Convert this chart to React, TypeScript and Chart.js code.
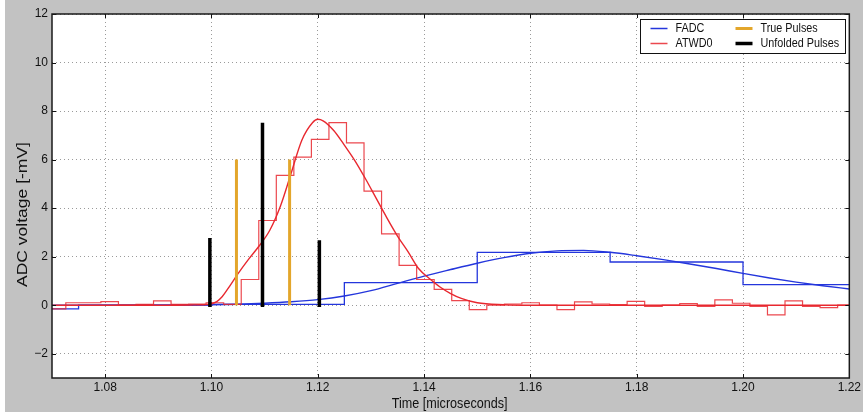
import React, { useEffect, useRef } from 'react';
import { Chart, registerables } from 'chart.js';

Chart.register(...registerables);

// ---------- axes ----------
const X_MIN = 1.07;
const X_MAX = 1.22;
const Y_MIN = -3;
const Y_MAX = 12;
const X_TICKS = [1.08, 1.1, 1.12, 1.14, 1.16, 1.18, 1.2, 1.22];
const Y_TICKS = [-2, 0, 2, 4, 6, 8, 10, 12];
const X_TITLE = 'Time [microseconds]';
const Y_TITLE = 'ADC voltage [-mV]';

// ---------- FADC (25 ns bins) ----------
const FADC_BIN_STARTS = [1.05, 1.075, 1.1, 1.125, 1.15, 1.175, 1.2];
const FADC_BIN_END = 1.225;
const FADC_VALUES = [-0.15, 0.0, 0.03, 0.93, 2.18, 1.78, 0.85];

const FADC_FIT_TIMES = [1.07, 1.095, 1.1, 1.105, 1.11, 1.115, 1.12, 1.125, 1.13, 1.135, 1.14, 1.145, 1.15, 1.155, 1.16, 1.165, 1.17, 1.175, 1.18, 1.185, 1.19, 1.195, 1.2, 1.205, 1.21, 1.215, 1.22];
const FADC_FIT_VALUES = [0, 0.01, 0.02, 0.04, 0.08, 0.14, 0.23, 0.38, 0.6, 0.9, 1.2, 1.47, 1.73, 1.96, 2.14, 2.24, 2.26, 2.18, 2.04, 1.88, 1.7, 1.51, 1.31, 1.12, 0.95, 0.8, 0.67];

// ---------- ATWD0 (3.3 ns bins) ----------
const ATWD_BIN_STARTS = [1.0693, 1.0726, 1.0759, 1.0792, 1.0825, 1.0858, 1.0891, 1.0924, 1.0957, 1.099, 1.1023, 1.1056, 1.1089, 1.1122, 1.1155, 1.1188, 1.1221, 1.1254, 1.1287, 1.132, 1.1353, 1.1386, 1.1419, 1.1452, 1.1485, 1.1518, 1.1551, 1.1584, 1.1617, 1.165, 1.1683, 1.1716, 1.1749, 1.1782, 1.1815, 1.1848, 1.1881, 1.1914, 1.1947, 1.198, 1.2013, 1.2046, 1.2079, 1.2112, 1.2145, 1.2178];
const ATWD_BIN_END = 1.2211;
const ATWD_VALUES = [-0.15, 0.1, 0.1, 0.15, 0.0, 0.03, 0.18, 0.03, 0.05, 0.1, 0.03, 1.06, 3.49, 5.35, 6.1, 6.83, 7.52, 6.69, 4.7, 2.94, 1.64, 1.06, 0.65, 0.19, -0.18, 0.0, 0.05, 0.1, 0.0, -0.18, 0.14, 0.05, 0.02, 0.16, -0.05, 0.0, 0.07, -0.05, 0.22, 0.08, -0.05, -0.4, 0.18, -0.05, -0.1, 0.0];

const ATWD_FIT_TIMES = [1.07, 1.09, 1.096, 1.099, 1.1, 1.101, 1.102, 1.103, 1.105, 1.107, 1.109, 1.111, 1.113, 1.115, 1.117, 1.119, 1.12, 1.121, 1.123, 1.125, 1.127, 1.129, 1.131, 1.133, 1.135, 1.137, 1.139, 1.141, 1.143, 1.145, 1.147, 1.15, 1.155, 1.16, 1.22];
const ATWD_FIT_VALUES = [0, 0, 0.01, 0.03, 0.06, 0.15, 0.35, 0.65, 1.3, 1.9, 2.45, 3.1, 4.1, 5.45, 6.8, 7.52, 7.66, 7.6, 7.2, 6.6, 5.95, 5.2, 4.4, 3.6, 2.85, 2.2, 1.5, 1.1, 0.75, 0.48, 0.28, 0.1, 0.02, 0, 0];

// ---------- pulses ----------
const TRUE_PULSE_TIMES = [1.1047, 1.1147];
const TRUE_PULSE_AMPS = [6.0, 6.0];
const UNFOLDED_PULSE_TIMES = [1.0997, 1.1096, 1.1203];
const UNFOLDED_PULSE_AMPS = [2.7, 7.45, 2.6];

// legend columns (top to bottom)
const LEGEND_COLUMNS = [
  ['FADC', 'ATWD0'],
  ['True Pulses', 'Unfolded Pulses'],
];

const BLUE = '#2436dc';
const RED = '#e8282f';
const ORANGE = '#e3a62b';
const SANS = "'Liberation Sans', Arial, Helvetica, sans-serif";
const TEXT = '#111111';

const stepPoints = (starts: number[], end: number, values: number[]) => [
  ...starts.map((x, i) => ({ x, y: values[i] })),
  { x: end, y: values[values.length - 1] },
];
const curvePoints = (xs: number[], ys: number[]) => xs.map((x, i) => ({ x, y: ys[i] }));
const pulsePoints = (ts: number[], amps: number[]) =>
  ts.flatMap((t, i) => [
    { x: t, y: 0 },
    { x: t, y: amps[i] },
    { x: t, y: null as any },
  ]);

const decorPlugin = {
  id: 'decor',
  beforeDraw(chart: any) {
    const { ctx, chartArea: a, width, height } = chart;
    ctx.save();
    ctx.fillStyle = '#c2c2c2';
    ctx.fillRect(5, 0, width - 5, height);
    ctx.fillStyle = '#ffffff';
    ctx.fillRect(a.left, a.top, a.right - a.left, a.bottom - a.top);
    ctx.restore();
  },
  afterDraw(chart: any) {
    const { ctx, chartArea: a, scales } = chart;
    ctx.save();
    // inner tick marks
    ctx.strokeStyle = '#111';
    ctx.lineWidth = 1;
    ctx.beginPath();
    for (const t of scales.x.ticks) {
      const px = Math.round(scales.x.getPixelForValue(t.value)) + 0.5;
      ctx.moveTo(px, a.bottom);
      ctx.lineTo(px, a.bottom - 4);
      ctx.moveTo(px, a.top);
      ctx.lineTo(px, a.top + 4);
    }
    for (const t of scales.y.ticks) {
      const py = Math.round(scales.y.getPixelForValue(t.value)) + 0.5;
      ctx.moveTo(a.left, py);
      ctx.lineTo(a.left + 4, py);
      ctx.moveTo(a.right, py);
      ctx.lineTo(a.right - 4, py);
    }
    ctx.stroke();
    // frame
    ctx.strokeStyle = '#1a1a1a';
    ctx.lineWidth = 1.5;
    ctx.strokeRect(a.left, a.top, a.right - a.left, a.bottom - a.top);

    // axis titles (condensed like the reference)
    ctx.fillStyle = TEXT;
    ctx.textAlign = 'center';
    ctx.textBaseline = 'middle';
    ctx.save();
    ctx.translate((a.left + a.right) / 2 - 1, 403.5);
    ctx.scale(0.84, 1);
    ctx.font = `15px ${SANS}`;
    ctx.fillText(X_TITLE, 0, 0);
    ctx.restore();

    ctx.save();
    ctx.translate(23.5, (a.top + a.bottom) / 2 + 18.5);
    ctx.rotate(-Math.PI / 2);
    ctx.scale(1, 0.82);
    ctx.font = `17.5px ${SANS}`;
    ctx.fillText(Y_TITLE, 0, 0);
    ctx.restore();

    // legend
    const bw = 205;
    const bh = 34;
    const bx = Math.round(a.right - 4 - bw) + 0.5;
    const by = Math.round(a.top + 5) + 0.5;
    ctx.fillStyle = '#ffffff';
    ctx.fillRect(bx, by, bw, bh);
    ctx.strokeStyle = '#111';
    ctx.lineWidth = 1;
    ctx.strokeRect(bx, by, bw, bh);
    const colX = [10, 95];
    const rowY = [9, 24];
    ctx.textBaseline = 'middle';
    ctx.textAlign = 'left';
    LEGEND_COLUMNS.forEach((col, ci) => {
      col.forEach((label, ri) => {
        const ds = chart.data.datasets.find((d: any) => d.label === label);
        if (!ds) return;
        const x0 = bx + colX[ci];
        const y0 = by + rowY[ri];
        ctx.strokeStyle = ds.borderColor;
        ctx.lineWidth = ds.legendWidth || ds.borderWidth;
        ctx.beginPath();
        ctx.moveTo(x0, y0);
        ctx.lineTo(x0 + 17, y0);
        ctx.stroke();
        ctx.save();
        ctx.translate(x0 + 25, y0 + 0.5);
        ctx.scale(0.9, 1);
        ctx.font = `12px ${SANS}`;
        ctx.fillStyle = TEXT;
        ctx.fillText(label, 0, 0);
        ctx.restore();
      });
    });
    ctx.restore();
  },
};

export default function App() {
  const ref = useRef<HTMLCanvasElement | null>(null);

  useEffect(() => {
    document.body.style.margin = '0';
    if (!ref.current) return;
    const chart = new Chart(ref.current, {
      type: 'line',
      data: {
        datasets: [
          {
            label: 'Unfolded Pulses',
            data: pulsePoints(UNFOLDED_PULSE_TIMES, UNFOLDED_PULSE_AMPS),
            borderColor: '#000000',
            borderWidth: 3.5,
            borderCapStyle: 'square',
            pointRadius: 0,
            order: 0,
          } as any,
          {
            label: 'True Pulses',
            data: pulsePoints(TRUE_PULSE_TIMES, TRUE_PULSE_AMPS),
            borderColor: ORANGE,
            borderWidth: 3,
            pointRadius: 0,
            order: 1,
          } as any,
          {
            label: 'ATWD0 fit',
            data: curvePoints(ATWD_FIT_TIMES, ATWD_FIT_VALUES),
            borderColor: RED,
            borderWidth: 1.4,
            cubicInterpolationMode: 'monotone',
            pointRadius: 0,
            order: 2,
          } as any,
          {
            label: 'ATWD0',
            data: stepPoints(ATWD_BIN_STARTS, ATWD_BIN_END, ATWD_VALUES),
            borderColor: 'rgba(232,40,47,0.85)',
            borderWidth: 1.2,
            legendWidth: 1.5,
            stepped: true,
            pointRadius: 0,
            order: 3,
          } as any,
          {
            label: 'FADC fit',
            data: curvePoints(FADC_FIT_TIMES, FADC_FIT_VALUES),
            borderColor: BLUE,
            borderWidth: 1.4,
            cubicInterpolationMode: 'monotone',
            pointRadius: 0,
            order: 4,
          } as any,
          {
            label: 'FADC',
            data: stepPoints(FADC_BIN_STARTS, FADC_BIN_END, FADC_VALUES),
            borderColor: BLUE,
            borderWidth: 1.3,
            legendWidth: 1.5,
            stepped: true,
            pointRadius: 0,
            order: 5,
          } as any,
        ],
      },
      options: {
        animation: false,
        responsive: false,
        devicePixelRatio: 1,
        layout: { padding: { top: 14, right: 12, left: 0, bottom: 0 } },
        plugins: {
          legend: { display: false },
          tooltip: { enabled: false },
        },
        scales: {
          x: {
            type: 'linear',
            min: X_MIN,
            max: X_MAX,
            afterBuildTicks: (s: any) => {
              s.ticks = X_TICKS.map((v) => ({ value: v }));
            },
            afterFit: (s: any) => {
              s.height = 34;
            },
            grid: { color: '#9a9a9a', lineWidth: 1, drawTicks: false },
            border: { display: false, dash: [1, 3] },
            ticks: {
              padding: 2,
              color: TEXT,
              maxRotation: 0,
              autoSkip: false,
              font: { family: SANS, size: 12 },
              callback: (v: any) => Number(v).toFixed(2),
            },
            title: { display: false },
          },
          y: {
            type: 'linear',
            min: Y_MIN,
            max: Y_MAX,
            afterBuildTicks: (s: any) => {
              s.ticks = Y_TICKS.map((v) => ({ value: v }));
            },
            afterFit: (s: any) => {
              s.width = 52;
            },
            grid: { color: '#9a9a9a', lineWidth: 1, drawTicks: false },
            border: { display: false, dash: [1, 3] },
            ticks: {
              padding: 4,
              color: TEXT,
              font: { family: SANS, size: 12 },
              callback: (v: any) => (Number(v) < 0 ? '\u2212' + Math.abs(Number(v)) : String(v)),
            },
            title: { display: false },
          },
        },
      } as any,
      plugins: [decorPlugin],
    });
    return () => chart.destroy();
  }, []);

  return <canvas ref={ref} width={863} height={412} style={{ display: 'block' }} />;
}
